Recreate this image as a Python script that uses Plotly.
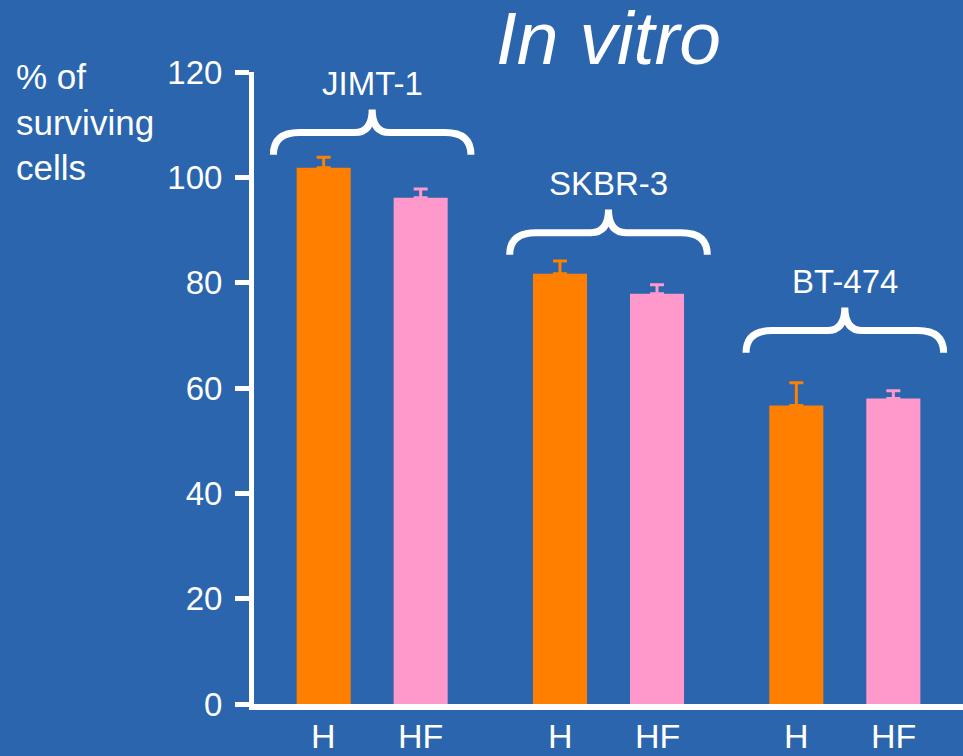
import plotly.graph_objects as go

# ---- data ----
cell_lines = ["JIMT-1", "SKBR-3", "BT-474"]
treatments = ["H", "HF"]
h_values = [101.8, 81.7, 56.7]
h_errors = [2.0, 2.4, 4.3]
hf_values = [96.1, 77.9, 58.0]
hf_errors = [1.7, 1.7, 1.5]
y_ticks = [0, 20, 40, 60, 80, 100, 120]

# ---- style / layout ----
BG = "#2a65ad"
ORANGE = "#ff8000"
PINK = "#ff99cc"
FONT = "Liberation Sans, Arial, sans-serif"
brace_base = [104.3, 85.3, 66.7]   # layout: height where each brace's arms end
BAR_OFFSET_PX = 48.5

xs = list(range(len(cell_lines)))

fig = go.Figure()
for name, vals, errs, col in [("H", h_values, h_errors, ORANGE),
                              ("HF", hf_values, hf_errors, PINK)]:
    fig.add_trace(go.Bar(
        x=xs, y=vals, name=name, marker=dict(color=col, line=dict(width=0)),
        error_y=dict(type="data", array=errs, arrayminus=[0] * len(errs),
                     symmetric=False, color=col, thickness=3, width=7),
    ))

shapes = []
annotations = []
hw, r, h1, h2 = 0.418, 0.11, 4.2, 4.4
rc = 0.075
for i, (cx, y0) in enumerate(zip(xs, brace_base)):
    yh = y0 + h1
    yt = yh + h2
    path = (f"M {cx-hw},{y0} Q {cx-hw},{yh} {cx-hw+r},{yh} "
            f"L {cx-rc},{yh} Q {cx},{yh} {cx},{yt} "
            f"Q {cx},{yh} {cx+rc},{yh} "
            f"L {cx+hw-r},{yh} Q {cx+hw},{yh} {cx+hw},{y0}")
    shapes.append(dict(type="path", path=path, xref="x", yref="y",
                       line=dict(color="white", width=7), layer="above"))
    annotations.append(dict(x=cx, y=yt, xref="x", yref="y", text=cell_lines[i],
                            showarrow=False, yanchor="bottom", yshift=5,
                            font=dict(family=FONT, size=33, color="white")))
    for t, sh in zip(treatments, (-BAR_OFFSET_PX, BAR_OFFSET_PX)):
        annotations.append(dict(x=cx, y=0, xref="x", yref="paper", text=t,
                                showarrow=False, xshift=sh, yanchor="top", yshift=-11,
                                font=dict(family=FONT, size=34, color="white")))

annotations.append(dict(x=0, y=1, xref="paper", yref="paper",
                        text="% of<br>surviving<br>cells", showarrow=False,
                        xanchor="left", yanchor="top", align="left",
                        xshift=-240, yshift=17,
                        font=dict(family=FONT, size=35, color="white")))
annotations.append(dict(x=1, y=1, xref="x", yref="paper",
                        text="<i>In vitro</i>", showarrow=False,
                        xanchor="center", yanchor="bottom", yshift=-10,
                        font=dict(family=FONT, size=75, color="white")))

fig.update_layout(
    width=963, height=756,
    margin=dict(l=254, r=0, t=72, b=52),
    paper_bgcolor=BG, plot_bgcolor=BG,
    barmode="group", bargap=0.179, bargroupgap=0.443,
    showlegend=False,
    shapes=shapes, annotations=annotations,
    xaxis=dict(range=[-0.5, 2.5], showgrid=False, zeroline=False,
               showticklabels=False, ticks="", showline=True,
               linecolor="white", linewidth=6, fixedrange=True),
    yaxis=dict(range=[0, 120], tickvals=y_ticks, showgrid=False, zeroline=False,
               showline=True, linecolor="white", linewidth=5,
               ticks="outside", ticklen=14, tickwidth=5, tickcolor="white",
               ticklabelstandoff=6,
               tickfont=dict(family=FONT, size=33, color="white")),
)

fig.write_html("out.html", config={"displayModeBar": False},
               post_script="document.body.style.margin='0';"
                           "document.body.style.overflow='hidden';")
